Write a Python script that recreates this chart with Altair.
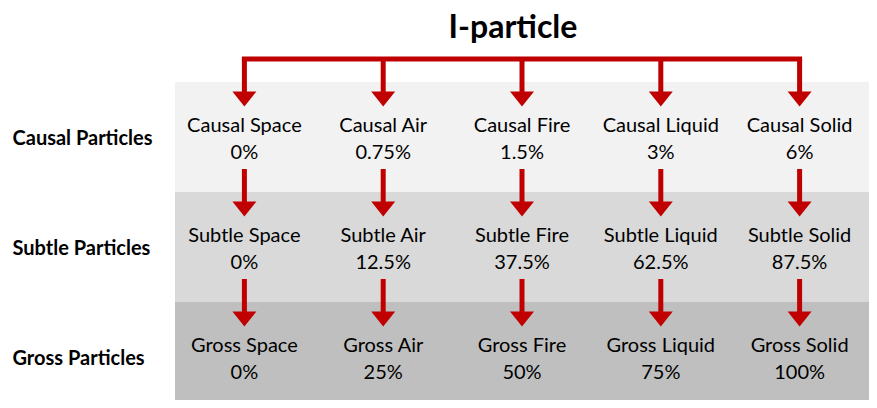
import altair as alt
import pandas as pd

title_text = "I-particle"
elements = ["Space", "Air", "Fire", "Liquid", "Solid"]
levels = ["Causal", "Subtle", "Gross"]
level_labels = ["Causal Particles", "Subtle Particles", "Gross Particles"]
causal_pct = ["0%", "0.75%", "1.5%", "3%", "6%"]
subtle_pct = ["0%", "12.5%", "37.5%", "62.5%", "87.5%"]
gross_pct = ["0%", "25%", "50%", "75%", "100%"]

RED = "#c00000"
BAND_COLORS = ["#f2f2f2", "#d9d9d9", "#bfbfbf"]
FONT = "Lato"
W, H = 694, 318

pcts = [causal_pct, subtle_pct, gross_pct]
rows = []
for lv, lab, pl in zip(levels, level_labels, pcts):
    for el, p in zip(elements, pl):
        rows.append({"level": lab, "element": el, "label": f"{lv} {el}\n{p}"})
cells = pd.DataFrame(rows)
bands_df = pd.DataFrame({"level": level_labels})
bracket_df = pd.DataFrame({"start": [elements[0]], "end": [elements[-1]], "level": [level_labels[0]]})

xscale = alt.Scale(domain=elements, paddingInner=0, paddingOuter=0)
yscale = alt.Scale(domain=level_labels, range=[0, 330], paddingInner=0, paddingOuter=0)

def X(field):
    return alt.X(f"{field}:N", scale=xscale, axis=None, bandPosition=0.5)

bands = alt.Chart(bands_df).mark_rect().encode(
    y=alt.Y("level:N", scale=yscale, title=None),
    x=alt.value(0),
    x2=alt.value(W),
    color=alt.Color("level:N", scale=alt.Scale(domain=level_labels, range=BAND_COLORS), legend=None),
)

stems = alt.Chart(cells).mark_rule(color=RED, strokeWidth=5, yOffset=-23, y2Offset=10).encode(
    x=X("element"),
    y=alt.Y("level:N", scale=yscale, title=None, bandPosition=0),
    y2=alt.Y2("level", bandPosition=0),
)

heads = alt.Chart(cells).mark_point(
    shape="M -1 -0.625 L 1 -0.625 L 0 0.625 Z",
    size=576, filled=True, color=RED, opacity=1, strokeWidth=0, yOffset=17,
).encode(
    x=X("element"),
    y=alt.Y("level:N", scale=yscale, title=None, bandPosition=0),
)

bracket = alt.Chart(bracket_df).mark_rule(color=RED, strokeWidth=5, strokeCap="square", yOffset=-23).encode(
    x=X("start"),
    x2=alt.X2("end", bandPosition=0.5),
    y=alt.Y("level:N", scale=yscale, title=None, bandPosition=0),
)

text = alt.Chart(cells).mark_text(
    font=FONT, fontSize=20, lineBreak="\n", lineHeight=27, color="black", dy=-11,
).encode(
    x=X("element"),
    y=alt.Y("level:N", scale=yscale, title=None),
    text="label:N",
)

chart = alt.layer(bands, stems, heads, bracket, text).properties(
    width=W,
    height=H,
    autosize=alt.AutoSizeParams(type="none"),
    padding={"left": 167, "top": 74, "right": 0, "bottom": 0},
    title=alt.Title(title_text, font=FONT, fontSize=32, fontWeight="bold", color="black",
                    anchor="middle", frame="group", offset=10, dx=-9),
).configure_view(stroke=None).configure_axisY(
    domain=False, ticks=False, tickSize=0, grid=False,
    labelFont=FONT, labelFontSize=20, labelFontWeight="bold", labelColor="black",
    labelAlign="left", labelPadding=163, labelOffset=2, labelLimit=200,
)

chart.save("out.html", embed_options={"renderer": "svg", "actions": False})
